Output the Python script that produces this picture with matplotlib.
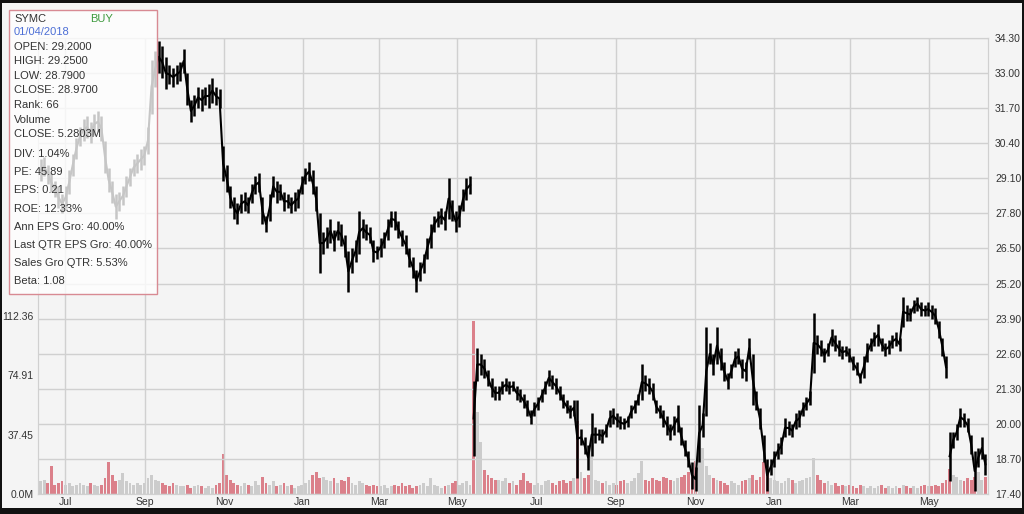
import numpy as np
import pandas as pd
import matplotlib
matplotlib.use('Agg')
import matplotlib.pyplot as plt
import matplotlib.dates as mdates
from matplotlib.patches import Rectangle

plt.rcParams['font.family'] = ['Liberation Sans', 'DejaVu Sans']

# two-trading-day price bars, Jun 2017 .. Jun 2019 (one line per month)
lo = [
  29.0, 29.2, 28.9, 28.6, 28.4, 28.0, 27.8,                          # Jun 17
  28.0, 28.5, 29.2, 29.8, 30.3, 30.5, 30.6, 30.4, 30.7, 30.8, 30.5,  # Jul
  29.3, 28.6, 28.2, 27.6, 27.9, 28.1, 28.4, 28.8, 29.2, 29.3, 29.4,  # Aug
  29.6, 30.0, 31.5, 32.5, 33.0, 32.8, 32.4, 32.6, 32.5, 32.6, 32.7,  # Sep
  33.0, 31.8, 31.2, 31.4, 31.7, 31.6, 31.8, 31.7, 31.9, 31.8, 31.7,  # Oct
  29.0, 28.6, 28.0, 27.6, 27.4, 27.8, 27.9, 27.8, 28.2, 28.5, 28.6,  # Nov
  27.4, 27.1, 27.5, 28.4, 28.2, 28.3, 27.9, 28.0, 27.8, 27.9, 28.0,  # Dec
  28.5, 28.9, 29.0, 28.5, 27.9, 25.6, 26.3, 26.5, 26.7, 26.4, 26.8,  # Jan 18
  26.6, 26.2, 24.9, 25.6, 26.0, 26.3, 26.9, 26.8, 26.7, 26.0, 26.1,  # Feb
  26.2, 26.5, 26.8, 27.3, 27.2, 26.9, 26.6, 26.3, 25.8, 25.4, 24.9,  # Mar
  25.3, 25.6, 26.1, 26.5, 27.1, 27.3, 27.4, 27.2, 27.6, 27.5, 27.1,  # Apr
  27.3, 27.9, 28.3, 28.5, 18.8, 21.6, 21.8, 21.7, 21.4, 21.0, 20.9,  # May
  20.9, 21.1, 21.2, 21.1, 21.2, 20.9, 20.8, 20.6, 20.3, 20.0, 20.3,  # Jun
  20.5, 20.8, 21.1, 21.4, 21.3, 21.1, 20.9, 20.6, 20.4, 20.2, 20.3,  # Jul
  18.0, 19.2, 18.9, 18.3, 18.8, 19.3, 19.4, 19.3, 19.5, 19.9, 20.0,  # Aug
  19.9, 19.8, 19.8, 19.9, 20.2, 20.4, 20.7, 20.9, 21.2, 21.1, 20.9,  # Sep
  20.4, 20.2, 19.9, 19.6, 19.4, 19.6, 19.7, 19.2, 18.8, 18.4, 17.6,  # Oct
  17.5, 18.6, 19.5, 20.3, 22.2, 21.8, 22.2, 22.0, 21.6, 21.3, 21.7,  # Nov
  22.1, 22.2, 21.7, 21.6, 22.4, 20.7, 20.5, 19.8, 18.6, 17.5, 18.1,  # Dec
  18.4, 18.7, 18.9, 19.5, 19.6, 19.5, 19.8, 19.9, 20.3, 20.5, 20.7,  # Jan 19
  21.9, 22.6, 22.5, 22.3, 22.5, 22.9, 22.7, 22.5, 22.4, 22.5, 22.3,  # Feb
  22.0, 21.8, 21.5, 21.7, 22.3, 22.7, 22.9, 22.9, 22.7, 22.5, 22.6,  # Mar
  22.8, 22.9, 22.7, 23.6, 23.8, 23.8, 24.1, 24.2, 24.0, 24.0, 24.0,  # Apr
  23.9, 23.7, 23.2, 22.5, 21.7, 17.9, 19.1, 19.4, 19.9, 19.9, 19.7,  # May
  18.9, 17.5, 18.4, 18.7, 18.1,                                      # Jun
]
hi = [
  29.8, 29.9, 29.6, 29.3, 29.0, 28.8, 28.5,
  28.8, 29.4, 30.0, 30.6, 31.0, 31.3, 31.4, 31.2, 31.5, 31.6, 31.4,
  30.5, 29.5, 29.0, 28.5, 28.6, 28.8, 29.2, 29.5, 29.8, 30.0, 30.2,
  30.3, 31.0, 33.5, 33.8, 34.2, 34.0, 33.6, 33.3, 33.2, 33.3, 33.4,
  33.9, 33.0, 32.0, 32.2, 32.5, 32.4, 32.5, 32.6, 32.8, 32.5, 32.4,
  30.3, 29.6, 28.8, 28.4, 28.2, 28.5, 28.6, 28.4, 28.9, 29.2, 29.3,
  28.4, 27.7, 28.5, 29.2, 29.0, 28.9, 28.6, 28.5, 28.4, 28.6, 28.7,
  29.2, 29.5, 29.7, 29.4, 28.8, 27.8, 27.1, 27.3, 27.6, 27.2, 27.5,
  27.4, 27.0, 26.4, 26.5, 26.8, 27.9, 27.6, 27.4, 27.3, 26.8, 26.6,
  26.9, 27.1, 27.6, 27.9, 27.9, 27.5, 27.2, 27.0, 26.5, 26.2, 25.7,
  26.0, 26.3, 26.9, 27.4, 27.7, 27.9, 28.0, 27.9, 29.1, 28.3, 27.9,
  28.1, 28.7, 29.1, 29.2, 21.6, 22.8, 22.6, 22.4, 22.0, 21.7, 21.4,
  21.4, 21.6, 21.7, 21.6, 21.6, 21.4, 21.3, 21.1, 20.9, 20.5, 20.8,
  21.0, 21.3, 21.6, 22.0, 21.8, 21.7, 21.4, 21.1, 20.9, 20.7, 20.9,
  20.9, 19.8, 19.5, 19.2, 20.4, 19.9, 19.8, 19.8, 20.0, 20.5, 20.6,
  20.4, 20.3, 20.2, 20.3, 20.7, 20.9, 21.1, 22.2, 21.8, 21.7, 21.5,
  20.9, 20.7, 20.5, 20.3, 20.0, 20.3, 20.7, 19.9, 19.4, 19.0, 18.6,
  18.4, 20.7, 20.4, 23.6, 23.0, 22.6, 23.6, 22.8, 22.3, 21.9, 22.2,
  22.7, 22.8, 22.4, 22.3, 23.2, 22.6, 21.2, 20.6, 19.6, 18.7, 18.7,
  19.0, 19.3, 19.5, 20.2, 20.1, 20.0, 20.4, 20.5, 20.8, 21.0, 21.2,
  24.1, 23.3, 23.1, 22.8, 23.0, 23.5, 23.3, 23.1, 22.9, 22.9, 22.8,
  22.5, 22.3, 21.9, 22.5, 23.0, 23.2, 23.4, 23.7, 23.2, 23.0, 23.1,
  23.3, 23.4, 23.2, 24.7, 24.4, 24.3, 24.6, 24.7, 24.5, 24.4, 24.5,
  24.4, 24.3, 23.8, 23.2, 22.5, 19.7, 19.7, 20.0, 20.6, 20.4, 20.2,
  19.6, 19.0, 19.1, 19.5, 18.9,
]
# volume, millions of shares
vol = [
  8, 9, 7, 18, 6, 7, 8,
  6, 7, 5, 6, 7, 6, 5, 7, 6, 5, 6,
  10, 20, 12, 8, 9, 13, 8, 7, 6, 7, 6,
  7, 10, 12, 9, 8, 7, 6, 5, 7, 6, 5,
  5, 6, 4, 5, 6, 5, 4, 5, 4, 6, 7,
  25, 12, 9, 7, 6, 5, 7, 6, 5, 8, 6,
  11, 7, 6, 8, 5, 6, 7, 5, 6, 4, 5,
  6, 7, 9, 12, 14, 10, 11, 9, 8, 10, 7,
  9, 8, 11, 7, 6, 8, 7, 6, 5, 6, 5,
  5, 6, 4, 5, 6, 5, 7, 5, 6, 4, 5,
  6, 7, 5, 10, 6, 5, 4, 5, 6, 7, 8,
  6, 7, 8, 6, 109, 52, 33, 15, 12, 10, 9,
  9, 8, 10, 7, 8, 6, 9, 13, 8, 7, 6,
  7, 6, 8, 9, 7, 6, 8, 9, 7, 8, 10,
  46, 14, 10, 12, 31, 9, 8, 7, 8, 6, 7,
  6, 8, 9, 7, 8, 10, 13, 21, 9, 8, 10,
  9, 8, 11, 10, 9, 8, 10, 11, 12, 14, 16,
  21, 20, 29, 18, 12, 10, 9, 8, 7, 6, 8,
  7, 6, 8, 9, 10, 12, 9, 11, 20, 16, 10,
  9, 8, 7, 8, 10, 9, 7, 8, 9, 10, 11,
  23, 12, 9, 7, 8, 6, 7, 5, 6, 5, 6,
  5, 4, 6, 5, 4, 5, 4, 5, 6, 4, 5,
  4, 5, 4, 6, 5, 4, 5, 4, 5, 6, 5,
  5, 6, 5, 7, 9, 16, 12, 11, 9, 8, 10,
  9, 11, 14, 9, 11,
]

price_ticks = [17.40, 18.70, 20.00, 21.30, 22.60, 23.90, 25.20, 26.50,
               27.80, 29.10, 30.40, 31.70, 33.00, 34.30]
vol_ticks = [0, 37.45, 74.91, 112.36]
vol_labels = ['0.0M', '37.45', '74.91', '112.36']
month_ticks = ['2017-07-01', '2017-09-01', '2017-11-01', '2018-01-01', '2018-03-01', '2018-05-01',
               '2018-07-01', '2018-09-01', '2018-11-01', '2019-01-01', '2019-03-01', '2019-05-01']
month_labels = ['Jul', 'Sep', 'Nov', 'Jan', 'Mar', 'May'] * 2

info = [('OPEN: 29.2000', 47), ('HIGH: 29.2500', 61), ('LOW: 28.7900', 76),
        ('CLOSE: 28.9700', 90), ('Rank: 66', 105), ('Volume', 120),
        ('CLOSE: 5.2803M', 134), ('DIV: 1.04%', 154), ('PE: 45.89', 172),
        ('EPS: 0.21', 190), ('ROE: 12.33%', 209), ('Ann EPS Gro: 40.00%', 227),
        ('Last QTR EPS Gro: 40.00%', 245), ('Sales Gro QTR: 5.53%', 263),
        ('Beta: 1.08', 281)]

lo = np.array(lo); hi = np.array(hi); vol = np.array(vol)
dates = pd.date_range('2017-06-12', '2019-06-14', periods=len(hi))
x = mdates.date2num(dates)

mid = (lo + hi) / 2
down = np.r_[False, mid[1:] < mid[:-1]]
vcol = np.where(down, '#d9737f', '#c8c8c8')

# path through the bar centres, broken at the gap days
jump = np.r_[False, np.abs(np.diff(mid)) > 2.5]
px, py = [], []
for xi, mi, j in zip(x, mid, jump):
    if j:
        px.append(np.nan); py.append(np.nan)
    px.append(xi); py.append(mi)

W, H = 1024, 514
bg = '#f4f4f4'
fig = plt.figure(figsize=(W / 100, H / 100), dpi=100)
fig.patch.set_facecolor(bg)

ax = fig.add_axes([38 / W, 20 / H, 950 / W, 456 / H])
ax.set_facecolor(bg)
ax2 = ax.twinx()

# volume underneath
ax.bar(x, vol, width=2.2, color=vcol, linewidth=0, alpha=0.9)
ax.set_ylim(0, 288)
ax.set_yticks(vol_ticks)
ax.set_yticklabels(vol_labels)
ax.yaxis.tick_left()

# price bars
ax2.vlines(x, lo, hi, color='black', lw=1.8)
ax2.plot(px, py, color='black', lw=1.5)
ax2.set_ylim(17.40, 34.30)
ax2.set_yticks(price_ticks)
ax2.set_yticklabels(['%.2f' % p for p in price_ticks])
ax2.grid(axis='y', color='#d0d0d0', lw=1)

xt = mdates.date2num(pd.to_datetime(month_ticks))
ax.set_xticks(xt)
ax.set_xticklabels(month_labels)
ax.grid(axis='x', color='#d0d0d0', lw=1)
ax.set_xlim(mdates.date2num(pd.Timestamp('2017-06-10')), mdates.date2num(pd.Timestamp('2019-06-16')))

for a in (ax, ax2):
    a.tick_params(length=0, labelsize=7.5, labelcolor='#333333')
    for s in a.spines.values():
        s.set_color('#d0d0d0')
ax.tick_params(axis='x', pad=2)
ax.tick_params(axis='y', pad=3)
ax2.tick_params(axis='y', pad=5)

# info box (semi-transparent)
fig.add_artist(Rectangle((9 / W, 1 - 294 / H), 148 / W, 284 / H, transform=fig.transFigure,
                         facecolor='white', alpha=0.78, edgecolor='none', zorder=5))
fig.add_artist(Rectangle((9 / W, 1 - 294 / H), 148 / W, 284 / H, transform=fig.transFigure,
                         facecolor='none', edgecolor='#d88a93', lw=1, zorder=6))
fig.text(14 / W, 1 - 19 / H, 'SYMC', fontsize=8, color='#333333', va='center', zorder=7)
fig.text(90 / W, 1 - 19 / H, 'BUY', fontsize=8, color='#3d9a3d', va='center', zorder=7)
fig.text(14 / W, 1 - 32 / H, '01/04/2018', fontsize=8, color='#4d6fd6', va='center', zorder=7)
for txt, yy in info:
    fig.text(14 / W, 1 - yy / H, txt, fontsize=8, color='#333333', va='center', zorder=7)

# dark frame round the image
for r in [(0, 0, W, 3), (0, 508, W, 6), (0, 0, 2, H), (W - 2, 0, 2, H)]:
    fig.add_artist(Rectangle((r[0] / W, 1 - (r[1] + r[3]) / H), r[2] / W, r[3] / H,
                             transform=fig.transFigure, facecolor='#111111', edgecolor='none', zorder=8))

fig.savefig('out.png', dpi=100, facecolor=bg)
